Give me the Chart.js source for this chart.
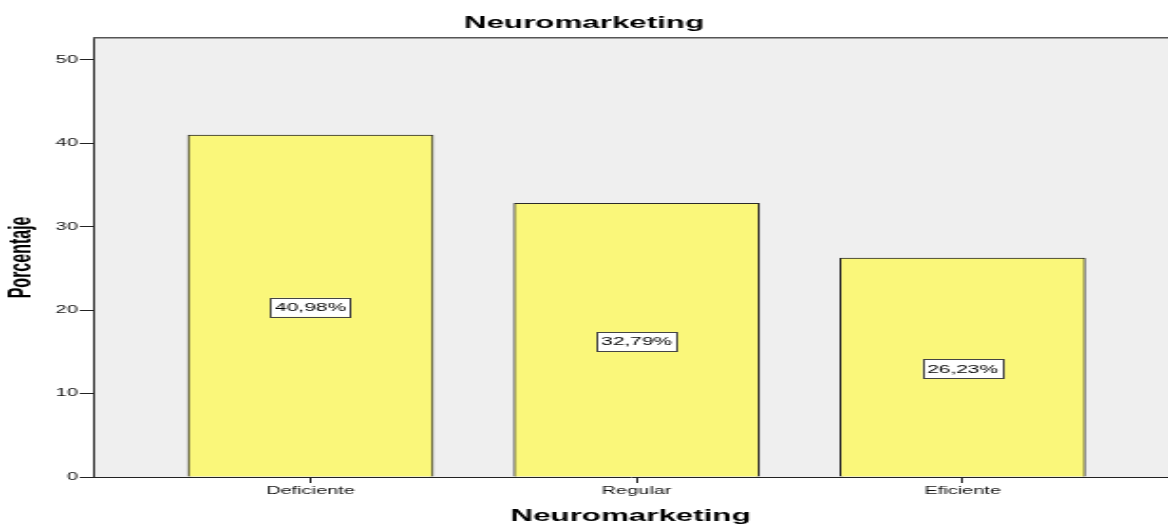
<!DOCTYPE html>
<html>
<head>
<meta charset="utf-8">
<script src="https://cdn.jsdelivr.net/npm/chart.js@4/dist/chart.umd.min.js"></script>
<style>
  html, body { margin: 0; padding: 0; background: #fff; overflow: hidden; }
  /* the original chart is stretched sideways, so draw narrow and stretch the canvas */
  #neuroChart { width: 1168px; height: 524px; }
</style>
</head>
<body>
<canvas id="neuroChart" width="615" height="524" style="width:1168px;height:524px"></canvas>
<script>
// data
var categories = ['Deficiente', 'Regular', 'Eficiente'];
var positions = [1, 2, 3];
var percentages = [40.98, 32.79, 26.23];
var yTicks = [0, 10, 20, 30, 40, 50];

var fontFamily = "'Liberation Sans', Arial, sans-serif";

// plot background + top frame line
var plotFrame = {
        id: 'plotFrame',
        beforeDraw: function (chart) {
                var a = chart.chartArea, ctx = chart.ctx;
                ctx.save();
                ctx.fillStyle = '#efefef';
                ctx.fillRect(a.left, a.top, a.right - a.left, a.bottom - a.top);
                ctx.restore();
        },
        afterDraw: function (chart) {
                var a = chart.chartArea, ctx = chart.ctx;
                ctx.save();
                ctx.strokeStyle = '#555';
                ctx.lineWidth = 1.5;
                ctx.beginPath();
                ctx.moveTo(a.left, a.top);
                ctx.lineTo(a.right, a.top);
                ctx.stroke();
                ctx.restore();
        }
};

// boxed percentage labels in the middle of each bar
var boxLabels = {
        id: 'boxLabels',
        afterDatasetsDraw: function (chart) {
                var ctx = chart.ctx;
                var meta = chart.getDatasetMeta(0);
                ctx.save();
                ctx.font = '11px ' + fontFamily;
                ctx.textAlign = 'center';
                ctx.textBaseline = 'middle';
                meta.data.forEach(function (bar, i) {
                        var text = percentages[i].toFixed(2).replace('.', ',') + '%';
                        var w = ctx.measureText(text).width + 5;
                        var h = 19;
                        var cy = (bar.y + bar.base) / 2 + 1.5;
                        ctx.fillStyle = '#fff';
                        ctx.fillRect(bar.x - w / 2, cy - h / 2, w, h);
                        ctx.strokeStyle = '#444';
                        ctx.lineWidth = 1;
                        ctx.strokeRect(Math.round(bar.x - w / 2) + 0.5, Math.round(cy - h / 2) + 0.5, Math.round(w), h);
                        ctx.fillStyle = '#000';
                        ctx.fillText(text, bar.x, cy + 1);
                });
                ctx.restore();
        }
};

var neuroData = {
        datasets: [{
                label: 'Porcentaje',
                data: positions.map(function (x, i) { return { x: x, y: percentages[i] }; }),
                backgroundColor: '#faf77a',
                borderColor: '#2a2a2a',
                borderWidth: 1,
                borderSkipped: 'bottom',
                barThickness: 129
        }]
};

var neuroConfig = {
        type: 'bar',
        data: neuroData,
        options: {
                responsive: false,
                devicePixelRatio: 1,
                animation: false,
                layout: { padding: 0 },
                plugins: {
                        legend: { display: false },
                        tooltip: { enabled: false },
                        title: {
                                display: true,
                                text: 'Neuromarketing',
                                color: '#000',
                                font: { family: fontFamily, size: 16.5, weight: 'bold' },
                                padding: { top: 14, bottom: 4 }
                        }
                },
                scales: {
                        x: {
                                type: 'linear',
                                min: 0.333,
                                max: 3.63,
                                offset: false,
                                afterFit: function (scale) { scale.height = 47; },
                                afterBuildTicks: function (scale) {
                                        scale.ticks = positions.map(function (v) { return { value: v }; });
                                },
                                border: { display: true, color: '#222', width: 1 },
                                grid: { offset: false, drawOnChartArea: false, drawTicks: true, tickLength: 6, tickColor: '#222' },
                                ticks: {
                                        padding: 2,
                                        color: '#111',
                                        font: { family: fontFamily, size: 10.5 },
                                        maxRotation: 0,
                                        autoSkip: false,
                                        callback: function (value) { return categories[value - 1] || ''; }
                                },
                                title: {
                                        display: true,
                                        text: 'Neuromarketing',
                                        color: '#000',
                                        padding: { top: 0, bottom: -2 },
                                        font: { family: fontFamily, size: 16.5, weight: 'bold' }
                                }
                        },
                        y: {
                                min: 0,
                                max: 52.64,
                                afterFit: function (scale) { scale.width = 49; },
                                afterBuildTicks: function (scale) {
                                        scale.ticks = yTicks.map(function (v) { return { value: v }; });
                                },
                                border: { display: true, color: '#222', width: 1 },
                                grid: { drawOnChartArea: false, drawTicks: true, tickLength: 7, tickColor: '#222' },
                                ticks: {
                                        padding: 1,
                                        color: '#111',
                                        font: { family: fontFamily, size: 10.5 }
                                },
                                title: {
                                        display: true,
                                        text: 'Porcentaje',
                                        color: '#000',
                                        padding: { top: 1.5, bottom: 0 },
                                        font: { family: fontFamily, size: 16, weight: 'bold' }
                                }
                        }
                }
        },
        plugins: [plotFrame, boxLabels]
};

var ctx = document.getElementById('neuroChart').getContext('2d');
var neuroChart = new Chart(ctx, neuroConfig);
</script>
</body>
</html>
